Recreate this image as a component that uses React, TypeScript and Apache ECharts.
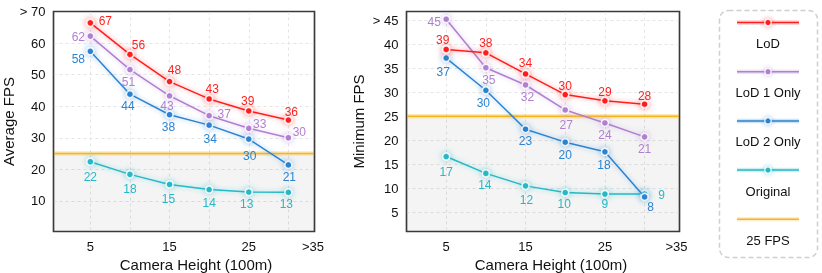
import React, { useEffect, useRef } from 'react';
import * as echarts from 'echarts';

// ---------- data ----------
const heights = [5, 10, 15, 20, 25, 30];
const thresholdFps = 25;

const avgLoD = [66.4, 56.4, 47.8, 42.3, 38.5, 35.6];
const avgLoD1 = [62.2, 51.6, 43.3, 37.0, 33.0, 30.0];
const avgLoD2 = [57.4, 43.8, 37.3, 34.0, 29.6, 21.4];
const avgOrig = [22.4, 18.4, 15.2, 13.6, 12.8, 12.7];
const avgLoDLabels = ['67', '56', '48', '43', '39', '36'];
const avgLoD1Labels = ['62', '51', '43', '37', '33', '30'];
const avgLoD2Labels = ['58', '44', '38', '34', '30', '21'];
const avgOrigLabels = ['22', '18', '15', '14', '13', '13'];

const minLoD = [38.9, 38.2, 33.8, 29.5, 28.2, 27.5];
const minLoD1 = [45.2, 35.1, 31.5, 26.3, 23.6, 20.7];
const minLoD2 = [37.1, 30.4, 22.3, 19.6, 17.6, 8.2];
const minOrig = [16.6, 13.1, 10.5, 9.1, 8.8, 8.8];
const minLoDLabels = ['39', '38', '34', '30', '29', '28'];
const minLoD1Labels = ['45', '35', '32', '27', '24', '21'];
const minLoD2Labels = ['37', '30', '23', '20', '18', '8'];
const minOrigLabels = ['17', '14', '12', '10', '9', '9'];

const xTickLabels = ['5', '15', '25'];
const xMaxLabel = '>35';
const avgYTop = '> 70';
const minYTop = '> 45';
const seriesNames = ['LoD', 'LoD 1 Only', 'LoD 2 Only', 'Original', '25 FPS'];

// ---------- styles ----------
const COLORS = ['#ff1f1f', '#b07fd1', '#2c83d1', '#25b8c6', '#f7b51c'];
const FONT = '"Liberation Sans", Arial, Helvetica, sans-serif';

// label offsets (style only)
const avgOffsets = [
  [[15, -1.5], [8.5, -9.5], [5, -11.5], [3, -10], [-1, -10], [3, -8.5]],
  [[-12, 1], [-1.5, 12], [-2.5, 10.5], [15, -1.5], [11, -4], [11, -6]],
  [[-12, 8], [-2, 12], [-1, 12], [1, 14], [1, 16.5], [1, 12]],
  [[0, 15], [0, 15], [-1, 15], [0, 13], [-2, 12], [-2, 12]],
];
const minOffsets = [
  [[-3.5, -9], [0, -10], [0, -11], [0, -8.5], [0, -9], [0, -8]],
  [[-12, 3], [3, 12], [2, 12], [1, 15], [0, 12], [0, 12]],
  [[-3, 14], [-2.5, 13], [0, 12], [0, 13], [-1, 13], [6, 10]],
  [[0, 15], [-1, 12], [1, 14], [-1, 11], [0, 10], [17, 1]],
];

const GRIDS = [
  { left: 53.5, top: 11.5, width: 261, height: 220 },
  { left: 406.5, top: 11.5, width: 273, height: 220 },
];

function rgba(hex: string, a: number) {
  const n = parseInt(hex.slice(1), 16);
  return `rgba(${(n >> 16) & 255},${(n >> 8) & 255},${n & 255},${a})`;
}

function lineSeries(idx: number, values: number[], labels: string[], offsets: number[][], gi: number) {
  const color = COLORS[idx];
  return {
    type: 'line',
    name: seriesNames[idx],
    xAxisIndex: gi,
    yAxisIndex: gi,
    z: 10 - idx,
    data: values.map((v, i) => ({
      value: [heights[i], v],
      label: { offset: offsets[i], formatter: labels[i] },
    })),
    symbol: 'circle',
    symbolSize: 7,
    lineStyle: { color, width: 1.5, shadowBlur: 5, shadowColor: rgba(color, 0.45) },
    itemStyle: {
      color,
      borderColor: 'rgba(255,255,255,0.85)',
      borderWidth: 1.5,
      shadowBlur: 6,
      shadowColor: rgba(color, 0.6),
    },
    label: {
      show: true,
      position: 'inside',
      color,
      fontSize: 12,
      fontFamily: FONT,
      textBorderWidth: 0,
      textBorderColor: 'transparent',
    },
    emphasis: { disabled: true },
    silent: true,
  };
}

function thresholdSeries(gi: number, xmin: number, xmax: number, ymin: number, glow: boolean) {
  const color = COLORS[4];
  const s: any = {
    type: 'line',
    name: seriesNames[4],
    xAxisIndex: gi,
    yAxisIndex: gi,
    z: glow ? 1 : 2,
    data: [[xmin, thresholdFps], [xmax, thresholdFps]],
    symbol: 'none',
    lineStyle: glow ? { color: rgba(color, 0.3), width: 4.5 } : { color, width: 1.5 },
    silent: true,
  };
  if (glow) {
    s.markArea = {
      silent: true,
      itemStyle: { color: 'rgba(0,0,0,0.045)' },
      data: [[{ yAxis: ymin }, { yAxis: thresholdFps }]],
    };
  }
  return s;
}

const AX = {
  avg: { xmin: 0.35, xmax: 33.3, ymin: 0.3, ymax: 70 },
  min: { xmin: 0, xmax: 34.4, ymin: 1, ymax: 46.8 },
};

function split() {
  return {
    show: true,
    showMinLine: false,
    showMaxLine: false,
    lineStyle: { color: '#e4e4e4', type: [3, 3], width: 1 },
  };
}

function xAxis(gi: number, xmin: number, xmax: number, namePad: number, maxPad: number) {
  return {
    type: 'value',
    gridIndex: gi,
    min: xmin,
    max: xmax,
    minInterval: 5,
    maxInterval: 5,
    splitNumber: 6,
    name: 'Camera Height (100m)',
    nameLocation: 'middle',
    nameGap: 22,
    nameTextStyle: { fontSize: 15, color: '#111', fontFamily: FONT, padding: [0, 0, 0, namePad] },
    axisLine: { show: false },
    axisTick: { show: false },
    axisLabel: {
      fontSize: 13,
      color: '#111',
      fontFamily: FONT,
      margin: 8,
      showMaxLabel: true,
      showMinLabel: true,
      formatter: (v: number) => {
        if (Math.abs(v - xmax) < 1e-6) return '{m|' + xMaxLabel + '}';
        const s = String(v);
        return xTickLabels.includes(s) ? s : '';
      },
      rich: { m: { fontSize: 13, color: '#111', fontFamily: FONT, padding: [0, maxPad, 0, 0] } },
    },
    splitLine: split(),
  };
}

function yAxis(gi: number, ymin: number, ymax: number, topLabel: string, topVal: number, name: string, gap: number, interval: number) {
  return {
    type: 'value',
    gridIndex: gi,
    min: ymin,
    max: ymax,
    minInterval: interval,
    maxInterval: interval,
    splitNumber: 8,
    name,
    nameLocation: 'middle',
    nameGap: gap,
    nameTextStyle: { fontSize: 15, color: '#111', fontFamily: FONT },
    axisLine: { show: false },
    axisTick: { show: false },
    axisLabel: {
      fontSize: 13,
      color: '#111',
      fontFamily: FONT,
      margin: 8,
      showMaxLabel: true,
      formatter: (v: number) => {
        if (Math.abs(v - topVal) < 1e-6) return topLabel;
        const r = Math.round(v);
        if (Math.abs(v - r) > 1e-6 || r % interval !== 0) return '';
        if (r <= 0 || r > topVal) return '';
        return String(r);
      },
    },
    splitLine: split(),
  };
}

function frameGraphics() {
  return GRIDS.map((g) => ({
    type: 'rect',
    z: 100,
    shape: { x: g.left, y: g.top, width: g.width, height: g.height },
    style: { fill: 'none', stroke: '#3a3a3a', lineWidth: 1.2 },
  }));
}

function legendGraphics() {
  const els: any[] = [
    {
      type: 'rect',
      shape: { x: 719.5, y: 10.5, width: 98, height: 247, r: 9 },
      style: { fill: 'none', stroke: '#cfcfcf', lineWidth: 1.5, lineDash: [5, 3] },
    },
  ];
  seriesNames.forEach((n, i) => {
    const y = 22.5 + 49.2 * i;
    const c = COLORS[i];
    els.push({
      type: 'line',
      shape: { x1: 737, y1: y, x2: 799, y2: y },
      style: { stroke: rgba(c, 0.22), lineWidth: 4.5 },
    });
    els.push({
      type: 'line',
      shape: { x1: 737, y1: y, x2: 799, y2: y },
      style: { stroke: c, lineWidth: 1.5 },
    });
    if (i < 4) {
      els.push({
        type: 'circle',
        shape: { cx: 768, cy: y, r: 3.2 },
        style: { fill: c, stroke: 'rgba(255,255,255,0.85)', lineWidth: 1.3, shadowBlur: 5, shadowColor: rgba(c, 0.6) },
      });
    }
    els.push({
      type: 'text',
      x: 768,
      y: y + 21,
      style: { text: n, align: 'center', verticalAlign: 'middle', fontSize: 13, fontFamily: FONT, fill: '#111' },
    });
  });
  return els;
}

export default function App() {
  const ref = useRef<HTMLDivElement>(null);
  useEffect(() => {
    if (!ref.current) return;
    const chart = echarts.init(ref.current, null, { renderer: 'svg' });
    const a = AX.avg;
    const m = AX.min;
    chart.setOption({
      animation: false,
      textStyle: { fontFamily: FONT },
      grid: GRIDS.map((g) => ({
        ...g,
        show: true,
        borderColor: '#3a3a3a',
        borderWidth: 1.5,
        outerBoundsMode: 'none',
      })),
      xAxis: [xAxis(0, a.xmin, a.xmax, 24, 3), xAxis(1, m.xmin, m.xmax, 16, 6)],
      yAxis: [
        yAxis(0, a.ymin, a.ymax, avgYTop, 70, 'Average FPS', 26, 10),
        yAxis(1, m.ymin, m.ymax, minYTop, 45, 'Minimum FPS', 41, 5),
      ],
      series: [
        thresholdSeries(0, a.xmin, a.xmax, a.ymin, true),
        thresholdSeries(0, a.xmin, a.xmax, a.ymin, false),
        lineSeries(0, avgLoD, avgLoDLabels, avgOffsets[0], 0),
        lineSeries(1, avgLoD1, avgLoD1Labels, avgOffsets[1], 0),
        lineSeries(2, avgLoD2, avgLoD2Labels, avgOffsets[2], 0),
        lineSeries(3, avgOrig, avgOrigLabels, avgOffsets[3], 0),
        thresholdSeries(1, m.xmin, m.xmax, m.ymin, true),
        thresholdSeries(1, m.xmin, m.xmax, m.ymin, false),
        lineSeries(0, minLoD, minLoDLabels, minOffsets[0], 1),
        lineSeries(1, minLoD1, minLoD1Labels, minOffsets[1], 1),
        lineSeries(2, minLoD2, minLoD2Labels, minOffsets[2], 1),
        lineSeries(3, minOrig, minOrigLabels, minOffsets[3], 1),
      ],
      graphic: [...frameGraphics(), ...legendGraphics()],
    });
    return () => chart.dispose();
  }, []);
  return <div ref={ref} style={{ position: 'fixed', left: 0, top: 0, width: 822, height: 273 }} />;
}
